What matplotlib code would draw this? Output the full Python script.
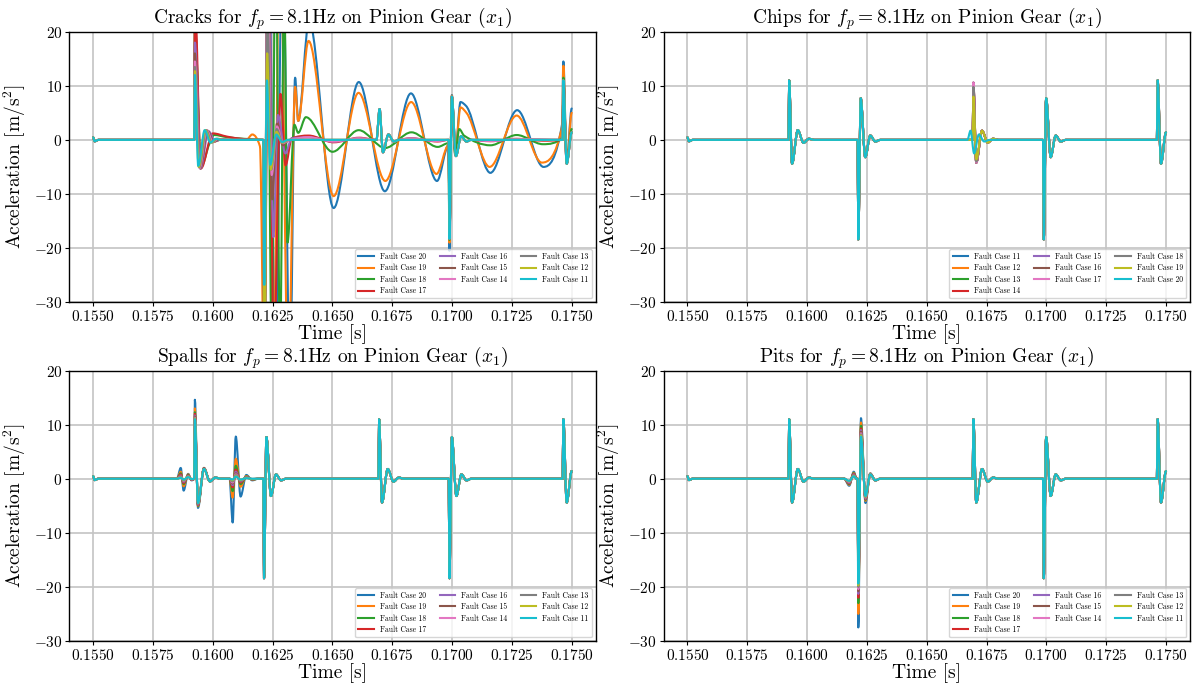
import numpy as np
import matplotlib
matplotlib.use("Agg")
import matplotlib.pyplot as plt
from matplotlib.path import Path
from matplotlib.patches import PathPatch
from matplotlib.lines import Line2D
from matplotlib.ticker import FixedLocator, FuncFormatter

plt.rcParams.update({
    "font.family": "serif",
    "font.serif": ["cmr10"],
    "mathtext.fontset": "cm",
    "axes.unicode_minus": False,
})

# ---------------------------------------------------------------------------
# Healthy gear-mesh response, keypoints (time [s], acceleration [m/s^2])
# ---------------------------------------------------------------------------
START = [(0.15500, 0.45), (0.15506, -0.25), (0.15522, 0.0)]
IMPACT_P1 = [(0.15922, 0.0), (0.15925, 11.0), (0.15937, -4.4), (0.15961, 1.8),
             (0.15985, -0.55), (0.16007, 0.2), (0.16030, 0.0)]
IMPACT_N1 = [(0.16211, 0.0), (0.16214, -18.4), (0.16224, 7.7), (0.16243, -3.2),
             (0.16264, 0.8), (0.16285, -0.3), (0.16306, 0.0)]
IMPACT_P2 = [(0.16692, 0.0), (0.16695, 11.0), (0.16707, -4.4), (0.16731, 1.8),
             (0.16755, -0.55), (0.16777, 0.2), (0.16800, 0.0)]
IMPACT_N2 = [(0.16986, 0.0), (0.16989, -18.4), (0.16999, 7.7), (0.17018, -3.2),
             (0.17039, 0.8), (0.17060, -0.3), (0.17081, 0.0)]
IMPACT_P3 = [(0.17462, 0.0), (0.17465, 11.0), (0.17479, -4.4), (0.17500, 1.4)]
HEALTHY = START + IMPACT_P1 + IMPACT_N1 + IMPACT_P2 + IMPACT_N2 + IMPACT_P3

# ---------------------------------------------------------------------------
# Chips (cases 11..20): modified response at the third mesh impact
# ---------------------------------------------------------------------------
CHIP_CASES = [11, 12, 13, 14, 15, 16, 17, 18, 19, 20]
CHIP_T = [0.16692, 0.16695, 0.16707, 0.16731, 0.16755, 0.16777, 0.16800]
CHIP_SPIKE = [10.4, 10.4, 10.3, 10.5, 10.6, 10.6, 10.6, 9.8, 8.0]      # cases 11..19
CHIP_TROUGH = [-4.2, -4.2, -4.2, -4.2, -4.2, -4.2, -4.2, -4.0, -3.6]   # cases 11..19
CHIP_RING = [1.7, -0.5, 0.2]
CHIP_CASE20 = [(0.16670, 0.0), (0.16683, 1.7), (0.16698, -2.5), (0.16718, 1.0),
               (0.16740, -0.3), (0.16762, 0.0)]

# ---------------------------------------------------------------------------
# Spalls (cases 20..11): columns follow SPALL_CASES
# ---------------------------------------------------------------------------
SPALL_CASES = [20, 19, 18, 17, 16, 15, 14, 13, 12, 11]
SPALL_T = [0.15850, 0.15866, 0.15878, 0.15897, 0.15911, 0.15922, 0.15925, 0.15938,
           0.15963, 0.15988, 0.16010, 0.16035, 0.16070, 0.16083, 0.16096, 0.16116,
           0.16140, 0.16165, 0.16190]
SPALL_A = [
    [0.0] * 10,
    [2.0, 1.3, 1.0, 0.8, 0.6, 0.5, 0.4, 0.3, 0.2, 0.15],
    [-2.2, -1.4, -1.0, -0.8, -0.6, -0.5, -0.4, -0.3, -0.2, -0.15],
    [0.9, 0.8, 0.7, 0.6, 0.55, 0.5, 0.45, 0.4, 0.35, 0.3],
    [-0.3, -0.25, -0.2, -0.2, -0.15, -0.15, -0.1, -0.1, -0.05, -0.05],
    [0.0] * 10,
    [14.6, 13.0, 12.3, 12.0, 11.7, 11.5, 11.3, 11.2, 11.1, 11.0],
    [-5.4, -5.1, -5.0, -4.9, -4.8, -4.7, -4.6, -4.6, -4.5, -4.5],
    [2.0, 2.0, 1.9, 1.9, 1.9, 1.9, 1.8, 1.8, 1.8, 1.8],
    [-0.5] * 10,
    [0.2] * 10,
    [0.0] * 10,
    [0.0] * 10,
    [-8.1, -3.5, -2.3, -1.6, -1.2, -0.9, -0.7, -0.5, -0.3, -0.15],
    [7.8, 3.7, 2.4, 1.7, 1.3, 1.0, 0.8, 0.65, 0.5, 0.4],
    [-3.3, -1.5, -1.0, -0.7, -0.5, -0.4, -0.3, -0.25, -0.2, -0.15],
    [0.7, 0.5, 0.4, 0.3, 0.3, 0.25, 0.2, 0.2, 0.15, 0.1],
    [-0.3, -0.2, -0.15, -0.1, -0.1, -0.1, -0.05, -0.05, -0.05, 0.0],
    [0.0] * 10,
]

# ---------------------------------------------------------------------------
# Pits (cases 20..11): modified response at the second mesh impact
# ---------------------------------------------------------------------------
PIT_CASES = [20, 19, 18, 17, 16, 15, 14, 13, 12, 11]
PIT_T = [0.16155, 0.16176, 0.16195, 0.16207, 0.16211, 0.16214, 0.16225, 0.16244,
         0.16264, 0.16285, 0.16306]
PIT_A = [
    [0.0] * 10,
    [-1.3, -1.1, -1.0, -0.9, -0.8, -0.7, -0.6, -0.5, -0.45, -0.4],
    [1.3, 1.1, 1.0, 0.9, 0.8, 0.7, 0.6, 0.55, 0.5, 0.45],
    [0.0] * 10,
    [0.0] * 10,
    [-27.5, -25.0, -23.0, -22.0, -21.3, -20.8, -20.4, -20.0, -19.7, -19.4],
    [11.2, 10.4, 9.8, 9.3, 9.0, 8.7, 8.4, 8.2, 8.0, 7.8],
    [-4.5, -4.1, -3.9, -3.8, -3.7, -3.6, -3.5, -3.4, -3.3, -3.2],
    [1.0, 0.95, 0.9, 0.9, 0.85, 0.85, 0.8, 0.8, 0.8, 0.8],
    [-0.3] * 10,
    [0.0] * 10,
]

# ---------------------------------------------------------------------------
# Cracks (cases 20..11): response from the first mesh impact onwards
# ---------------------------------------------------------------------------
CRACK_CASES = [20, 19, 18, 17, 16, 15, 14, 13, 12, 11]
CRACK_P2 = [(0.16684, 0.0), (0.16697, 5.7), (0.16711, -2.3), (0.16734, 1.0),
            (0.16756, -0.3), (0.16778, 0.0)]
CRACK_N2 = [(0.16986, 0.0), (0.16989, -18.3), (0.16999, 8.0), (0.17016, -3.0),
            (0.17038, 0.7), (0.17060, -0.3), (0.17080, 0.0)]

CRACK_11 = [(0.15922, 0.0), (0.15925, 12.0), (0.15939, -4.8), (0.15966, 1.8),
            (0.15990, -0.5), (0.16012, 0.2), (0.16035, 0.0),
            (0.16211, 0.0), (0.16215, -26.8), (0.16226, 11.0), (0.16240, -4.6),
            (0.16265, 1.0), (0.16290, -0.4), (0.16313, 0.0)]
CRACK_12 = [(0.15922, 0.0), (0.15925, 12.7), (0.15941, -5.0), (0.15969, 1.8),
            (0.15993, -0.5), (0.16015, 0.2), (0.16040, 0.0),
            (0.16211, 0.0), (0.16215, -45.0), (0.16227, 16.0), (0.16242, -5.5),
            (0.16266, 1.5), (0.16290, -0.5), (0.16315, 0.0)]
CRACK_13 = [(0.15922, 0.0), (0.15925, 13.5), (0.15943, -5.1), (0.15972, 1.8),
            (0.15996, -0.5), (0.16018, 0.2), (0.16045, 0.0),
            (0.16211, 0.0), (0.16215, -40.0), (0.16228, 25.0), (0.16244, -5.5),
            (0.16267, 2.0), (0.16292, -0.5), (0.16318, 0.0)]
CRACK_14 = [(0.15922, 0.0), (0.15925, 14.5), (0.15945, -5.2), (0.15975, 1.8),
            (0.16000, -0.4), (0.16022, 0.2), (0.16050, 0.0),
            (0.16211, 0.0), (0.16215, -38.0), (0.16229, 35.0), (0.16246, -6.5),
            (0.16268, 2.5), (0.16293, -0.6), (0.16320, 0.0),
            (0.16400, 0.5), (0.16505, -0.3), (0.16610, 0.3)]
CRACK_15 = [(0.15922, 0.0), (0.15925, 16.0), (0.15947, -5.3), (0.15978, 1.7),
            (0.16004, -0.3), (0.16030, 0.1), (0.16060, 0.0),
            (0.16211, 0.0), (0.16215, -35.0), (0.16230, 40.0), (0.16248, -11.0),
            (0.16268, 3.0), (0.16292, -1.0), (0.16320, 0.0)]
CRACK_16 = [(0.15922, 0.0), (0.15925, 18.0), (0.15949, -5.3), (0.15982, 1.6),
            (0.16010, -0.2), (0.16040, 0.1), (0.16070, 0.0),
            (0.16211, 0.0), (0.16215, -32.0), (0.16231, 45.0), (0.16253, -18.0),
            (0.16272, 4.6), (0.16303, -2.5), (0.16330, 0.3),
            (0.16400, 0.45), (0.16505, -0.3), (0.16610, 0.25)]
CRACK_17 = [(0.15922, 0.0), (0.15925, 26.0), (0.15950, -5.3), (0.16000, 1.2),
            (0.16060, 0.6), (0.16120, 0.2), (0.16190, 0.0),
            (0.16211, 0.0), (0.16215, -40.0), (0.16233, 35.0), (0.16255, -40.0),
            (0.16283, 8.5), (0.16304, -4.7), (0.16330, 0.3),
            (0.16400, 0.8), (0.16505, -0.45), (0.16612, 0.4)]
CRACK_18 = [(0.15922, 0.0), (0.15925, 21.0), (0.15951, -5.0), (0.15985, -0.8),
            (0.16005, 0.9), (0.16060, 0.5), (0.16130, 0.2), (0.16195, 0.05),
            (0.16211, 0.0), (0.16215, -45.0), (0.16228, 35.0), (0.16245, -35.0),
            (0.16263, 40.0), (0.16281, -40.0), (0.16298, 30.0), (0.16312, -19.0),
            (0.16341, 2.8), (0.16357, 1.3), (0.16389, 4.2), (0.16500, -2.2),
            (0.16610, 1.8), (0.16720, -1.5), (0.16830, 1.4), (0.16940, -1.3),
            (0.16985, -0.6), (0.16989, -18.5), (0.16999, 8.0), (0.17013, -2.5),
            (0.17030, 2.0), (0.17050, 0.8), (0.17160, -1.0), (0.17270, 0.9),
            (0.17380, -0.8), (0.17462, 0.5), (0.17465, 11.5), (0.17479, -4.2),
            (0.17500, 2.0)]
CRACK_19 = [(0.15922, 0.0), (0.15925, 22.0), (0.15948, -5.2), (0.15975, 1.7),
            (0.16000, -0.4), (0.16030, 0.0),
            (0.16140, 0.0), (0.16165, 1.0), (0.16197, -1.2), (0.16215, -45.0),
            (0.16230, 40.0), (0.16255, -40.0), (0.16280, 45.0), (0.16315, -45.0),
            (0.16344, 9.8), (0.16357, 3.5), (0.16400, 18.3), (0.16505, -10.4),
            (0.16609, 8.7), (0.16721, -7.6), (0.16829, 7.0), (0.16935, -6.3),
            (0.16985, -1.0), (0.16989, -19.0), (0.16999, 8.2), (0.17013, -2.6),
            (0.17035, 6.0), (0.17060, 5.0), (0.17157, -5.0), (0.17270, 4.5),
            (0.17375, -4.2), (0.17460, 2.5), (0.17465, 13.7), (0.17479, -4.2),
            (0.17500, 5.0)]
CRACK_20 = [(0.15922, 0.0), (0.15925, 23.0), (0.15948, -5.2), (0.15975, 1.7),
            (0.16000, -0.4), (0.16030, 0.0),
            (0.16211, 0.0), (0.16215, -45.0), (0.16232, 40.0), (0.16262, -40.0),
            (0.16292, 40.0), (0.16322, -45.0), (0.16344, 11.5), (0.16357, 3.5),
            (0.16402, 22.0), (0.16505, -12.6), (0.16610, 10.7), (0.16719, -9.5),
            (0.16828, 8.6), (0.16937, -7.6), (0.16985, -1.0), (0.16989, -20.5),
            (0.16999, 8.3), (0.17013, -2.8), (0.17035, 7.0), (0.17058, 6.3),
            (0.17160, -6.1), (0.17272, 5.5), (0.17382, -5.0), (0.17460, 3.0),
            (0.17465, 14.5), (0.17479, -4.0), (0.17500, 5.8)]

# low-amplitude wave between the later impacts for the milder cracks
CRACK_WAVE_A = [(0.16830, 0.25), (0.16935, -0.2)]
CRACK_WAVE_B = [(0.17160, -0.2), (0.17270, 0.15)]
CRACK_WAVE_17A = [(0.16830, 0.3), (0.16940, -0.3)]
CRACK_WAVE_17B = [(0.17160, -0.25), (0.17270, 0.2), (0.17380, -0.15)]

X_TICKS = [0.1550, 0.1575, 0.1600, 0.1625, 0.1650, 0.1675, 0.1700, 0.1725, 0.1750]
Y_TICKS = [-30, -20, -10, 0, 10, 20]
COLORS = plt.rcParams["axes.prop_cycle"].by_key()["color"]


def replace_window(base, lo, hi, pts):
    out = [p for p in base if p[0] < lo] + list(pts) + [p for p in base if p[0] > hi]
    return sorted(out, key=lambda p: p[0])


def smooth_path(pts):
    """Monotone cubic Bezier path through the keypoints."""
    x = np.array([p[0] for p in pts], dtype=float)
    y = np.array([p[1] for p in pts], dtype=float)
    n = len(x)
    h = np.diff(x)
    d = np.diff(y) / h
    m = np.zeros(n)
    for i in range(1, n - 1):
        if d[i - 1] * d[i] > 0:
            w1 = 2 * h[i] + h[i - 1]
            w2 = h[i] + 2 * h[i - 1]
            m[i] = (w1 + w2) / (w1 / d[i - 1] + w2 / d[i])
    verts = [(x[0], y[0])]
    codes = [Path.MOVETO]
    for i in range(n - 1):
        verts += [(x[i] + h[i] / 3, y[i] + m[i] * h[i] / 3),
                  (x[i + 1] - h[i] / 3, y[i + 1] - m[i + 1] * h[i] / 3),
                  (x[i + 1], y[i + 1])]
        codes += [Path.CURVE4] * 3
    return Path(verts, codes)


def chips_series():
    series = []
    for k, case in enumerate(CHIP_CASES):
        if case == 20:
            pts = CHIP_CASE20
        else:
            vals = [0.0, CHIP_SPIKE[k], CHIP_TROUGH[k]] + CHIP_RING + [0.0]
            pts = list(zip(CHIP_T, vals))
        series.append((case, replace_window(HEALTHY, 0.16665, 0.16810, pts)))
    return series


def table_series(cases, times, table, lo, hi):
    series = []
    for k, case in enumerate(cases):
        pts = [(t, row[k]) for t, row in zip(times, table)]
        series.append((case, replace_window(HEALTHY, lo, hi, pts)))
    return series


def cracks_series():
    tail = CRACK_P2 + CRACK_N2 + IMPACT_P3
    tail_wave = CRACK_P2 + CRACK_WAVE_A + CRACK_N2 + CRACK_WAVE_B + IMPACT_P3
    tail_17 = CRACK_P2 + CRACK_WAVE_17A + CRACK_N2 + CRACK_WAVE_17B + IMPACT_P3
    own = {
        20: CRACK_20, 19: CRACK_19, 18: CRACK_18,
        17: CRACK_17 + tail_17, 16: CRACK_16 + tail_wave, 15: CRACK_15 + tail,
        14: CRACK_14 + tail_wave, 13: CRACK_13 + tail, 12: CRACK_12 + tail,
        11: CRACK_11 + tail,
    }
    return [(c, replace_window(HEALTHY, 0.15915, 0.17510, own[c])) for c in CRACK_CASES]


def draw_panel(ax, title, series):
    handles = []
    for k, (case, pts) in enumerate(series):
        color = COLORS[k % len(COLORS)]
        patch = PathPatch(smooth_path(pts), facecolor="none", edgecolor=color,
                          linewidth=1.5, joinstyle="round", capstyle="round",
                          zorder=2 + k * 0.01)
        ax.add_patch(patch)
        handles.append(Line2D([], [], color=color, linewidth=1.5,
                              label=f"Fault Case {case}"))
    ax.set_xlim(0.154, 0.176)
    ax.set_ylim(-30, 20)
    ax.xaxis.set_major_locator(FixedLocator(X_TICKS))
    ax.yaxis.set_major_locator(FixedLocator(Y_TICKS))
    ax.xaxis.set_major_formatter(FuncFormatter(lambda v, p: f"${v:.4f}$"))
    ax.yaxis.set_major_formatter(FuncFormatter(lambda v, p: f"${v:.0f}$"))
    ax.tick_params(labelsize=11, length=3, pad=2)
    ax.grid(True, color="#c4c4c4", linewidth=1.2, zorder=0)
    ax.set_axisbelow(True)
    for s in ax.spines.values():
        s.set_linewidth(1.0)
    ax.set_title(title, fontsize=14, pad=3)
    ax.set_xlabel("Time [s]", fontsize=14, labelpad=0)
    ax.set_ylabel(r"Acceleration $[\mathrm{m/s^2}]$", fontsize=14, labelpad=4)
    ax.legend(handles=handles, loc="lower right", ncol=3, fontsize=5.5,
              labelspacing=0.4, columnspacing=1.8)


fig, axes = plt.subplots(2, 2, figsize=(11.94, 6.91), dpi=100)
fig.subplots_adjust(left=0.058, right=0.9966, bottom=0.0724, top=0.9541,
                    wspace=0.129, hspace=0.253)

draw_panel(axes[0, 0], r"Cracks for $f_p = 8.1$Hz on Pinion Gear $(x_1)$", cracks_series())
draw_panel(axes[0, 1], r"Chips for $f_p = 8.1$Hz on Pinion Gear $(x_1)$", chips_series())
draw_panel(axes[1, 0], r"Spalls for $f_p = 8.1$Hz on Pinion Gear $(x_1)$",
           table_series(SPALL_CASES, SPALL_T, SPALL_A, 0.15840, 0.16200))
draw_panel(axes[1, 1], r"Pits for $f_p = 8.1$Hz on Pinion Gear $(x_1)$",
           table_series(PIT_CASES, PIT_T, PIT_A, 0.16150, 0.16310))

fig.savefig("out.png", dpi=100)
